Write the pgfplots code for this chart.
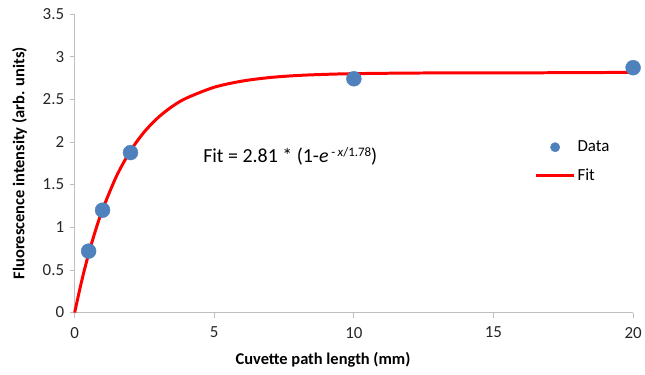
\documentclass[border=0pt]{standalone}
\usepackage{pgfplots}
\pgfplotsset{compat=1.18}
\usepackage{fontspec}
\setmainfont{Carlito}
\definecolor{axgray}{RGB}{190,190,190}
\definecolor{datablue}{RGB}{79,129,189}
\begin{document}
\begin{tikzpicture}
\begin{axis}[
  scale only axis,
  width=561pt, height=300pt,
  xmin=0, xmax=20, ymin=0, ymax=3.5,
  xtick={0,5,10,15,20},
  ytick={0,0.5,1,1.5,2,2.5,3,3.5},
  axis x line=bottom, axis y line=left,
  axis line style={axgray, line width=0.8pt, -},
  tick style={axgray, line width=0.8pt},
  tick align=outside,
  major tick length=5pt,
  /pgf/number format/assume math mode=true,
  /pgf/number format/fixed,
  ticklabel style={font=\fontsize{17}{19}\selectfont, text=black!85},
  yticklabel style={xshift=-2pt},
  xticklabel style={yshift=-6pt},
  xlabel={\textbf{Cuvette path length (mm)}},
  ylabel={\textbf{Fluorescence intensity (arb. units)}},
  label style={font=\fontsize{16.5}{18}\selectfont},
  xlabel style={xshift=-31pt},
  xlabel shift=7pt,
  ylabel shift=9pt,
  clip=false,
  legend image code/.code={\draw[mark repeat=2,mark phase=2,#1] plot coordinates {(0pt,0pt) (19pt,0pt) (38pt,0pt)};},
  legend style={draw=none, fill=none, at={(rel axis cs:0.8235,0.505)}, anchor=west,
    font=\fontsize{17}{18}\selectfont, row sep=12pt, inner sep=0pt},
  legend cell align=left,
]
\addplot[only marks, mark=*, mark size=7.5pt, color=datablue, mark options={draw=datablue, fill=datablue},
  legend image post style={mark size=4.7pt}]
 coordinates {(0.5,0.72) (1,1.2) (2,1.875) (10,2.74) (20,2.87)};
\addlegendentry{Data}
\addplot[red, line width=3pt, smooth, line join=round]
 coordinates {(0,0) (0.25,0.368) (0.5,0.688) (0.75,0.966) (1,1.208) (1.5,1.600) (2,1.896) (2.5,2.120) (3,2.289) (3.5,2.417) (4,2.513) (5,2.641) (6,2.713) (7,2.755) (8,2.779) (9,2.792) (10,2.800) (12,2.807) (14,2.809) (16,2.8096) (20,2.815)};
\addlegendentry{Fit}
\node[anchor=west, font=\fontsize{20}{21}\selectfont, inner sep=0pt] at (axis cs:4.6,1.83) {Fit = 2.81 * (1-\textit{e}\raisebox{6.5pt}{\fontsize{13}{13}\selectfont\ -\,\textit{x}/1.78})};
\path (rel axis cs:0,0) ++(-75pt,-62pt) coordinate (bbl);
\path (rel axis cs:1,1) ++(9pt,14pt) coordinate (bbr);
\path (bbl) rectangle (bbr);
\end{axis}
\end{tikzpicture}
\end{document}
